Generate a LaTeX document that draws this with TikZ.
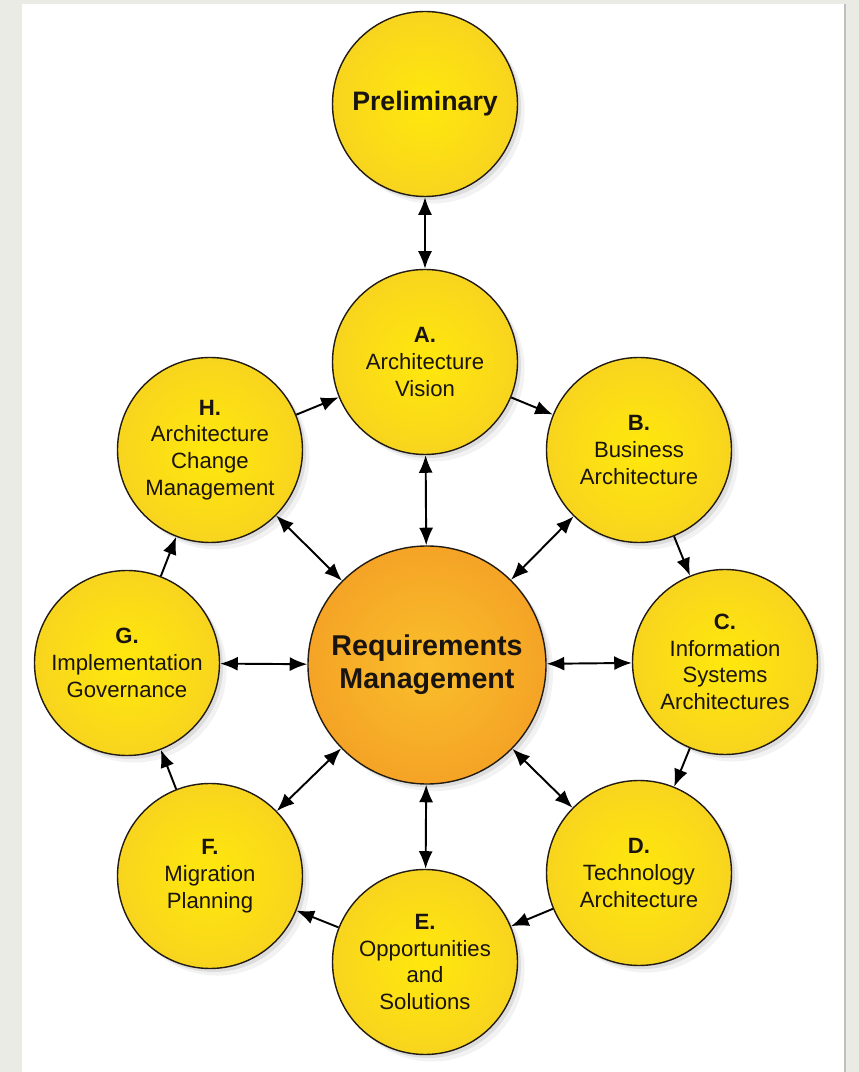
\documentclass[tikz,border=0pt]{standalone}
\usepackage{fontspec}
\setmainfont{Liberation Sans}
\usetikzlibrary{arrows.meta,shadows}
\definecolor{bggray}{RGB}{235,235,230}
\definecolor{phasein}{RGB}{255,232,12}
\definecolor{phaseout}{RGB}{241,193,48}
\definecolor{corein}{RGB}{250,190,44}
\definecolor{coreout}{RGB}{239,136,30}
\definecolor{inkline}{RGB}{35,28,20}
\definecolor{inktext}{RGB}{25,20,15}
\pgfdeclareradialshading{phaseshade}{\pgfpointorigin}
  {color(0bp)=(phasein); color(10bp)=(phasein!80!phaseout); color(50bp)=(phaseout)}
\pgfdeclareradialshading{coreshade}{\pgfpointorigin}
  {color(0bp)=(corein); color(8bp)=(corein!85!coreout); color(50bp)=(coreout)}

\begin{document}
\begin{tikzpicture}[
    phase/.style={circle, draw=inkline, line width=0.8pt, minimum size=3.7cm,
      inner sep=0pt, align=center, shading=phaseshade, text=inktext,
      font=\fontsize{12.6}{15.2}\selectfont,
      drop shadow={shadow xshift=2pt, shadow yshift=-2pt, opacity=0.18},
      drop shadow={shadow xshift=4pt, shadow yshift=-4pt, opacity=0.10}},
    core/.style={phase, minimum size=4.76cm, shading=coreshade,
      font=\bfseries\fontsize{16.3}{18.8}\selectfont},
    flow/.style={-{Latex[length=10pt,width=8pt]}, line width=1.1pt},
    both/.style={{Latex[length=10pt,width=8pt]}-{Latex[length=10pt,width=8pt]},
      line width=1.1pt}
  ]
    \useasboundingbox (0,0) rectangle (17.18,21.44);
    \fill[bggray] (0,0) rectangle (17.18,21.44);
    \fill[white] (0.44,0) rectangle (16.9,21.36);
    \draw[black!25, line width=0.6pt] (16.9,0) -- (16.9,21.36);

    \node[phase, font=\bfseries\fontsize{15.2}{18}\selectfont]
      (pre) at (8.5,19.36) {Preliminary};
    \node[core] (rm) at (8.54,8.14) {Requirements\\Management};

    \foreach \n/\x/\y/\t in
      {a/8.5/14.2/{\textbf{A.}\\Architecture\\Vision},
       b/12.78/12.44/{\textbf{B.}\\Business\\Architecture},
       c/14.5/8.2/{\textbf{C.}\\Information\\Systems\\Architectures},
       d/12.78/3.98/{\textbf{D.}\\Technology\\Architecture},
       e/8.5/2.2/{\textbf{E.}\\Opportunities\\and\\Solutions},
       f/4.2/3.92/{\textbf{F.}\\Migration\\Planning},
       g/2.54/8.18/{\textbf{G.}\\Implementation\\Governance},
       h/4.2/12.44/{\textbf{H.}\\Architecture\\Change\\Management}} {
      \node[phase] (\n) at (\x,\y) {\t};
    }

    \draw[both] (pre) -- (a);
    \foreach \s/\e in {a/b,b/c,c/d,d/e,e/f,f/g,g/h,h/a} {
      \draw[flow] (\s) -- (\e);
    }
    \foreach \n in {a,b,c,d,e,f,g,h} {
      \draw[both] (rm) -- (\n);
    }
  \end{tikzpicture}
\end{document}
